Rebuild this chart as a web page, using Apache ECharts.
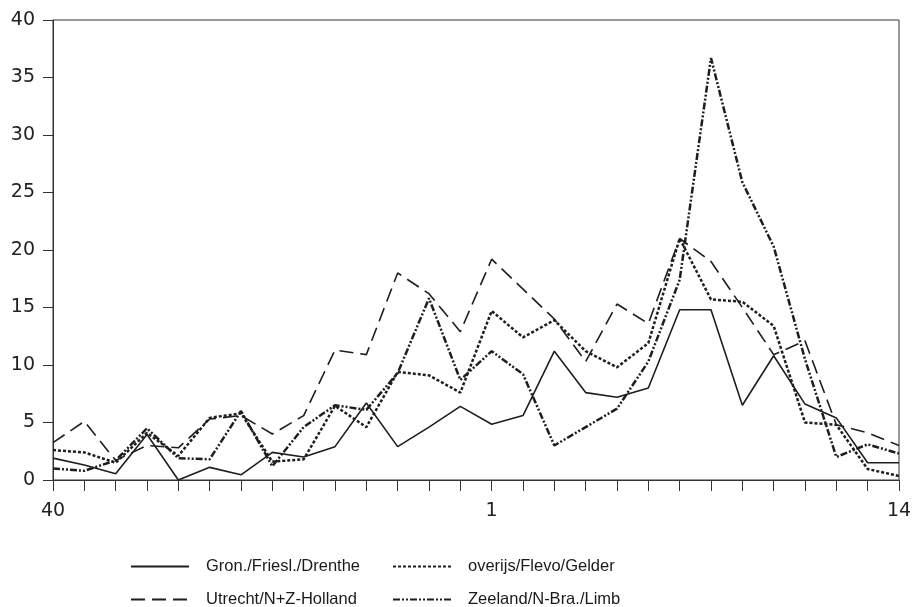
<!DOCTYPE html>
<html>
<head>
<meta charset="utf-8">
<script src="https://cdn.jsdelivr.net/npm/echarts@6/dist/echarts.min.js"></script>
<style>
html,body{margin:0;padding:0;background:#fff;}
#chart{width:915px;height:607px;}
</style>
</head>
<body>
<div id="chart"></div>
<script>
// weeks 40..53 then 1..14
var weeks = ['40','41','42','43','44','45','46','47','48','49','50','51','52','53',
             '1','2','3','4','5','6','7','8','9','10','11','12','13','14'];
var xTickLabels = ['40','1','14'];

var gron     = [1.9,1.3,0.55,3.95,0.0,1.1,0.45,2.4,2.0,2.9,6.7,2.9,4.6,6.4,4.85,5.6,11.2,7.6,7.2,8.0,14.8,14.8,6.5,10.8,6.6,5.4,1.5,1.5];
var utrecht  = [3.25,5.1,1.7,3.0,2.8,5.3,5.6,4.0,5.6,11.3,10.9,18.0,16.2,12.9,19.2,16.6,14.0,10.3,15.3,13.6,21.0,19.0,15.0,10.9,12.1,4.8,4.1,3.0];
var overijs  = [2.6,2.4,1.5,4.1,2.1,5.4,5.8,1.6,1.8,6.45,4.6,9.4,9.1,7.6,14.7,12.4,13.9,11.2,9.8,11.9,21.0,15.7,15.5,13.4,5.0,4.8,0.95,0.35];
var zeeland  = [1.0,0.8,1.7,4.5,1.9,1.8,6.0,1.2,4.6,6.5,6.1,9.3,15.8,8.7,11.2,9.2,3.0,4.6,6.2,10.3,17.4,36.7,25.9,20.3,10.5,2.0,3.1,2.3];

var names = ['Gron./Friesl./Drenthe','Utrecht/N+Z-Holland','overijs/Flevo/Gelder','Zeeland/N-Bra./Limb'];

var lineColor = '#1e1e1e';
var chart = echarts.init(document.getElementById('chart'), null, {renderer:'canvas'});
var legendText = {color:'#1a1a1a', fontSize:16.5, fontFamily:"'Liberation Sans',Arial,sans-serif", padding:[0,0,0,12]};
var axisFont = "'DejaVu Sans',sans-serif";

function mk(name, data, width, type){
  return {
    name:name, type:'line', data:data, symbol:'none', animation:false,
    lineStyle:{color:lineColor, width:width, type:type},
    itemStyle:{color:lineColor}
  };
}
function lg(name, left, top){
  return {data:[name], orient:'horizontal', left:left, top:top, itemWidth:58, itemHeight:14,
    textStyle:legendText, selectedMode:false,
    itemStyle:{color:'rgba(0,0,0,0)', borderWidth:0, opacity:0}};
}

chart.setOption({
  backgroundColor:'#fff',
  animation:false,
  grid:{left:53, right:16, top:20, bottom:127, show:true, borderColor:'#333', borderWidth:1, backgroundColor:'transparent'},
  legend:[
    lg(names[0],125,553),
    lg(names[1],125,586),
    lg(names[2],387,553),
    lg(names[3],387,586)
  ],
  xAxis:{
    type:'category', data:weeks, boundaryGap:false,
    axisLine:{lineStyle:{color:'#333', width:1}},
    axisTick:{show:true, length:11, interval:0, lineStyle:{color:'#333'}},
    axisLabel:{
      interval:function(i,v){return xTickLabels.indexOf(v) >= 0;},
      color:'#222', fontSize:19, fontFamily:axisFont, margin:22
    },
    splitLine:{show:false}
  },
  yAxis:{
    type:'value', min:0, max:40, interval:5,
    axisLine:{show:true, lineStyle:{color:'#333', width:1}},
    axisTick:{show:true, length:10, lineStyle:{color:'#333'}},
    axisLabel:{color:'#222', fontSize:19, fontFamily:axisFont, margin:18},
    splitLine:{show:false}
  },
  series:[
    mk(names[0], gron, 1.6, 'solid'),
    mk(names[1], utrecht, 1.6, [14,7]),
    mk(names[2], overijs, 2.5, [3,2]),
    mk(names[3], zeeland, 2.5, [7,2,2,2,2,2])
  ]
});
</script>
</body>
</html>
